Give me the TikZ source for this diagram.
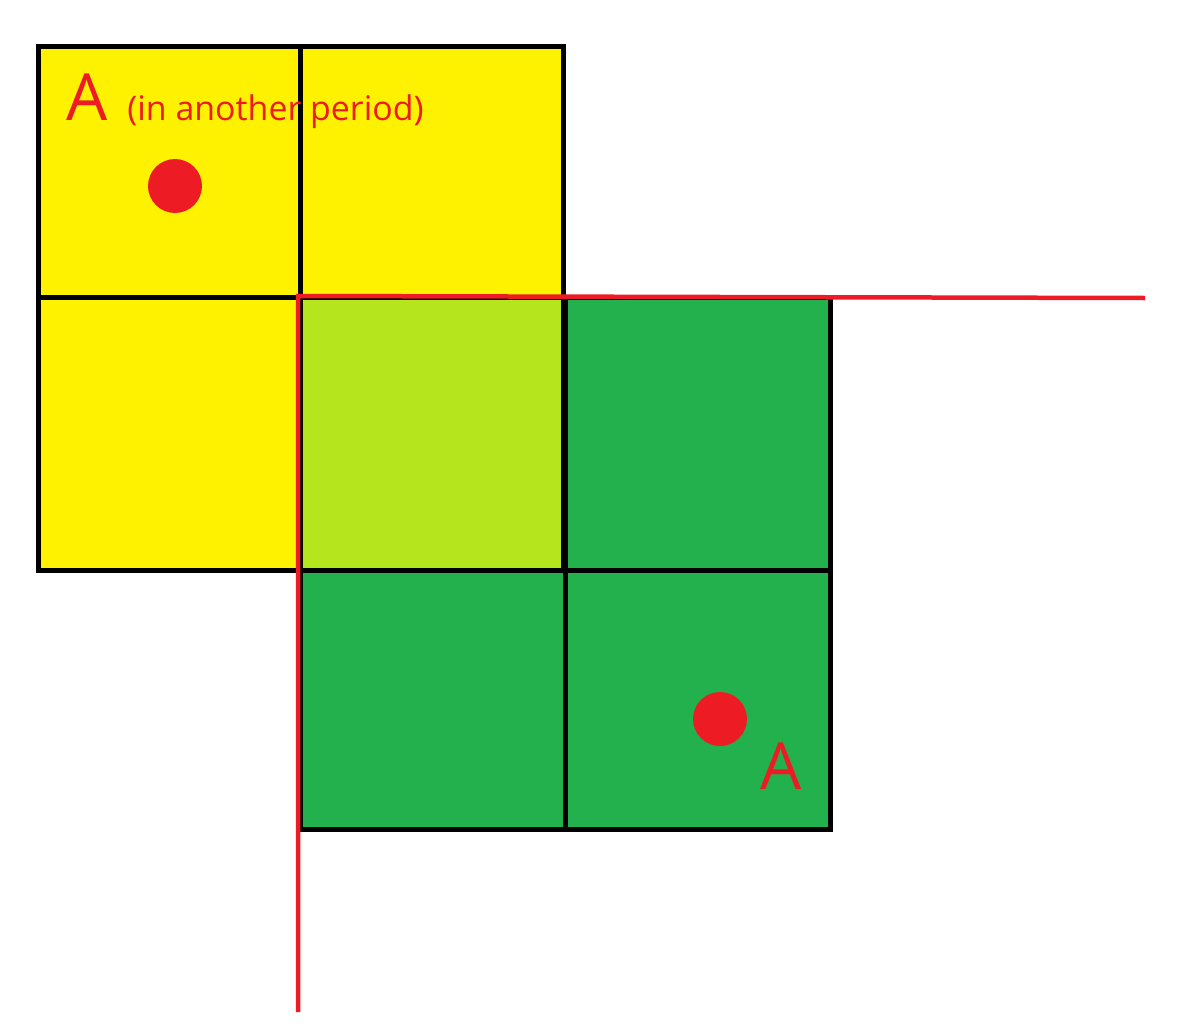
\documentclass[tikz,border=0pt]{standalone}
\usepackage{fontspec}
\setmainfont{Open Sans}
\usetikzlibrary{positioning}
\definecolor{paintyellow}{RGB}{255,242,0}
\definecolor{paintgreen}{RGB}{34,177,76}
\definecolor{paintlime}{RGB}{181,230,29}
\definecolor{paintred}{RGB}{237,28,36}

\begin{document}
\begin{tikzpicture}[x=0.02cm,y=-0.02cm,
  cell/.style={draw=black,line width=0.1cm},
  cut/.style={draw=paintred,line width=0.09cm},
  spot/.style={circle,fill=paintred,minimum size=1.08cm,inner sep=0pt},
  biglabel/.style={text=paintred,inner sep=0pt,font=\fontsize{37}{40}\selectfont},
  smalllabel/.style={text=paintred,inner sep=0pt,font=\fontsize{19.3}{22}\selectfont}
]
\useasboundingbox (0,0) rectangle (1183,1031);
% two periods and their overlap
\fill[paintyellow] (38,46) rectangle (563,570);
\fill[paintgreen] (300,297) rectangle (830,829);
\fill[paintlime] (300,297) rectangle (563,570);
% grids
\draw[cell] (38,46) rectangle (563,570);
\draw[cell] (300,46) -- (300,570);
\draw[cell] (38,297) -- (563,297);
\draw[cell] (300,297) rectangle (830,829);
\draw[cell] (565,297) -- (565,829);
\draw[cell] (300,570) -- (830,570);
% cut lines
\coordinate (corner) at (298,296);
\coordinate (cutbottom) at (298,1012);
\coordinate (cutright) at (1145,298);
\draw[cut] (cutbottom) -- (corner) -- (cutright);
% points
\node[spot] (spotold) at (175,186) {};
\node[spot] (spotnew) at (720,719) {};
\node[biglabel,anchor=base] (labelold) at (87,120) {A};
\node[smalllabel,anchor=base west] (period) at (127,120) {(in another period)};
\node[biglabel,anchor=base] (labelnew) at (781,789) {A};
\end{tikzpicture}
\end{document}
